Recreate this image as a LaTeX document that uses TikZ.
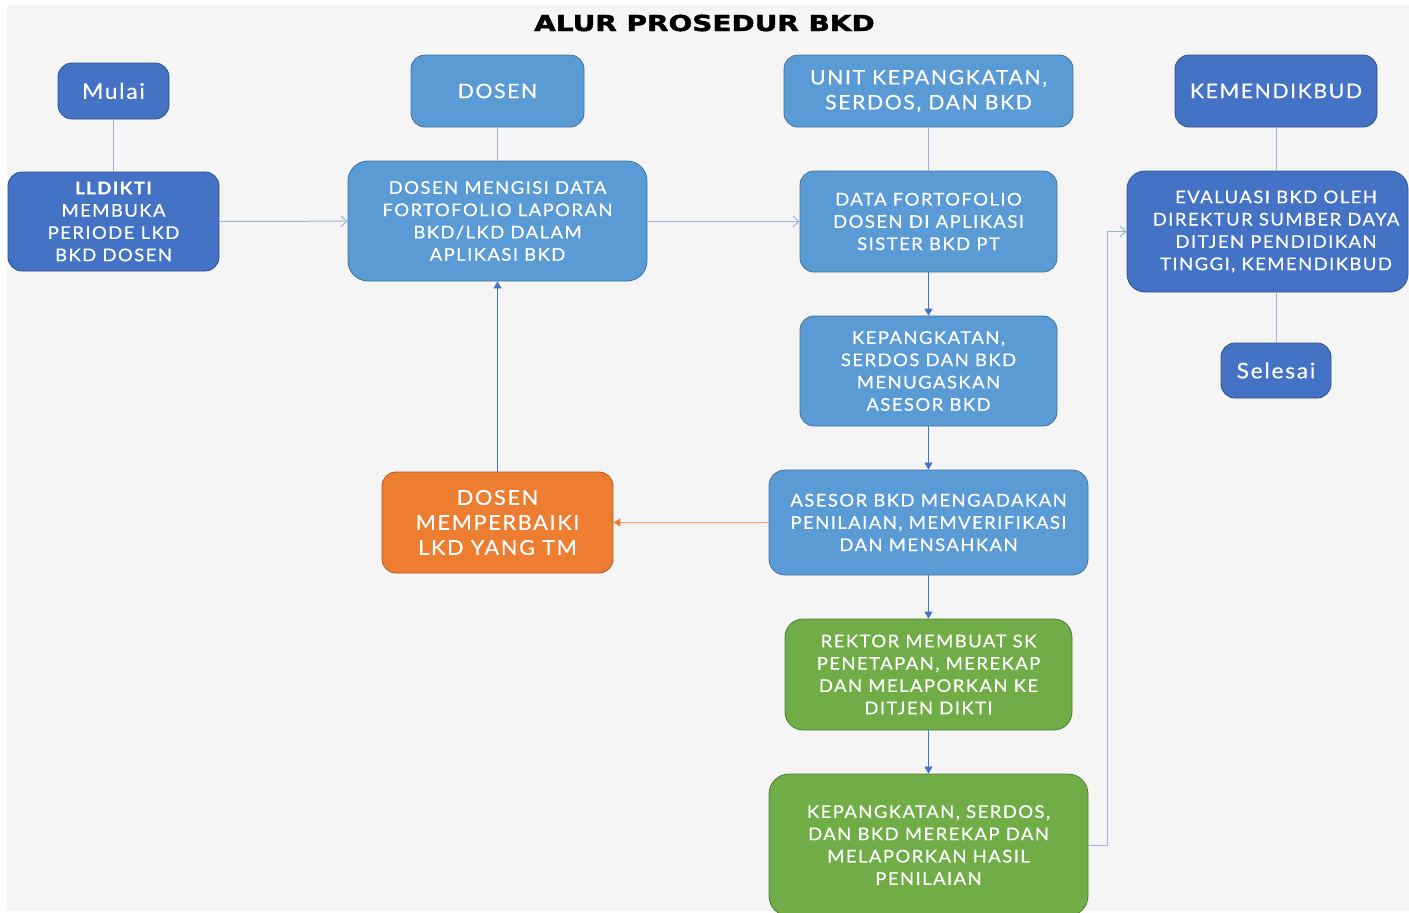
\documentclass[tikz,border=0pt]{standalone}
\usepackage{fontspec}
\usetikzlibrary{arrows.meta}
\newfontfamily\boxfont{Lato}[LetterSpace=8,FakeStretch=1.06,FakeBold=0.4]
\newfontfamily\titlefont{DejaVu Sans}[FakeStretch=1.27,FakeBold=2]
\definecolor{darkblue}{HTML}{4472C4}
\definecolor{darkblueline}{HTML}{2F528F}
\definecolor{lightblue}{HTML}{5B9BD5}
\definecolor{lightblueline}{HTML}{41719C}
\definecolor{greenfill}{HTML}{70AD47}
\definecolor{greenline}{HTML}{507E32}
\definecolor{orangefill}{HTML}{ED7D31}
\definecolor{orangeline}{HTML}{AE5A21}
\definecolor{plainconn}{HTML}{9FB4DA}
\definecolor{arrowconn}{HTML}{4472C4}
\definecolor{orangeconn}{HTML}{F4A070}
\definecolor{bggray}{HTML}{F5F5F5}
\begin{document}
\begin{tikzpicture}[x=1pt,y=-1pt,
  box/.style={rectangle,rounded corners=14pt,line width=0.8pt,text=white,
    align=center,inner sep=0pt,font=\boxfont\fontsize{17.5}{22.3}\selectfont},
  dbox/.style={box,fill=darkblue,draw=darkblueline},
  lbox/.style={box,fill=lightblue,draw=lightblueline},
  gbox/.style={box,fill=greenfill,draw=greenline},
  obox/.style={box,fill=orangefill,draw=orangeline},
  big/.style={font=\boxfont\fontsize{20}{25}\selectfont},
  plainline/.style={draw=plainconn,line width=1pt},
  openarrow/.style={draw=plainconn,line width=1pt,-{Straight Barb[length=6pt,width=11pt]}},
  fillarrow/.style={draw=arrowconn,line width=1pt,-{Triangle[length=7pt,width=8pt]}},
  orangearrow/.style={draw=orangeconn,line width=1pt,-{Triangle[length=7pt,width=8pt,color=orangefill]}}
]
\useasboundingbox (0,0) rectangle (1409,913);
\fill[white] (0,0) rectangle (1409,913);
\fill[bggray] (7,5) rectangle (1409,911);

\node[font=\titlefont\bfseries\fontsize{22}{24}\selectfont] (title) at (704.5,23) {ALUR PROSEDUR BKD};

% column 1
\node[dbox,minimum width=111pt,minimum height=56pt,font=\boxfont\fontsize{21.5}{25}\selectfont] (mulai) at (113.5,91) {Mulai};
\node[dbox,minimum width=211pt,minimum height=99pt] (lldikti) at (113.5,221.5) {{\bfseries LLDIKTI}\\MEMBUKA\\PERIODE LKD\\BKD DOSEN};

% column 2
\node[lbox,big,minimum width=173pt,minimum height=72pt] (dosen) at (497.5,91) {DOSEN};
\node[lbox,minimum width=299pt,minimum height=120pt,rounded corners=20pt] (mengisi) at (497.5,221) {DOSEN MENGISI DATA\\FORTOFOLIO LAPORAN\\BKD/LKD DALAM\\APLIKASI BKD};
\node[obox,minimum width=231pt,minimum height=101pt,font=\boxfont\fontsize{20.5}{25}\selectfont] (perbaiki) at (497.5,522.5) {DOSEN\\MEMPERBAIKI\\LKD YANG TM};

% column 3
\node[lbox,big,minimum width=289pt,minimum height=72pt] (unit) at (928.5,91) {UNIT KEPANGKATAN,\\SERDOS, DAN BKD};
\node[lbox,minimum width=257pt,minimum height=101pt] (data) at (928.5,221.5) {DATA FORTOFOLIO\\DOSEN DI APLIKASI\\SISTER BKD PT};
\node[lbox,minimum width=257pt,minimum height=110pt] (tugas) at (928.5,371) {KEPANGKATAN,\\SERDOS DAN BKD\\MENUGASKAN\\ASESOR BKD};
\node[lbox,minimum width=319pt,minimum height=105pt,rounded corners=16pt] (asesor) at (928.5,522.5) {ASESOR BKD MENGADAKAN\\PENILAIAN, MEMVERIFIKASI\\DAN MENSAHKAN};
\node[gbox,minimum width=287pt,minimum height=111pt,rounded corners=18pt] (rektor) at (928.5,674.5) {REKTOR MEMBUAT SK\\PENETAPAN, MEREKAP\\DAN MELAPORKAN KE\\DITJEN DIKTI};
\node[gbox,minimum width=319pt,minimum height=142pt,rounded corners=20pt] (rekap) at (928.5,845) {KEPANGKATAN, SERDOS,\\DAN BKD MEREKAP DAN\\MELAPORKAN HASIL\\PENILAIAN};

% column 4
\node[dbox,big,minimum width=202pt,minimum height=72pt] (kemen) at (1276,91) {KEMENDIKBUD};
\node[dbox,minimum width=281pt,minimum height=121pt,rounded corners=18pt] (eval) at (1267.5,231.5) {};
\node[text=white,align=center,inner sep=0pt,font=\boxfont\fontsize{17.5}{22.3}\selectfont] (evaltext) at (1276,231.5) {EVALUASI BKD OLEH\\DIREKTUR SUMBER DAYA\\DITJEN PENDIDIKAN\\TINGGI, KEMENDIKBUD};
\node[dbox,minimum width=110pt,minimum height=55pt,font=\boxfont\fontsize{21.5}{25}\selectfont] (selesai) at (1276,370.5) {Selesai};

% connectors
\draw[plainline] (mulai) -- (lldikti);
\draw[openarrow] (lldikti) -- (mengisi);
\draw[plainline] (dosen) -- (mengisi);
\draw[openarrow] (mengisi.east |- lldikti.east) -- (data.west |- lldikti.east);
\draw[plainline] (unit) -- (data);
\draw[fillarrow] (data) -- (tugas);
\draw[fillarrow] (tugas) -- (asesor);
\draw[orangearrow] (asesor) -- (perbaiki);
\draw[fillarrow] (perbaiki) -- (mengisi);
\draw[fillarrow] (asesor) -- (rektor);
\draw[fillarrow] (rektor) -- (rekap);
\coordinate (turnx) at (1107,0);
\draw[openarrow] (rekap.east) -- (rekap.east -| turnx) -- (turnx |- eval.west) -- (eval.west);
\draw[plainline] (kemen) -- (eval.north -| kemen);
\draw[plainline] (eval.south -| selesai) -- (selesai);
\end{tikzpicture}
\end{document}
